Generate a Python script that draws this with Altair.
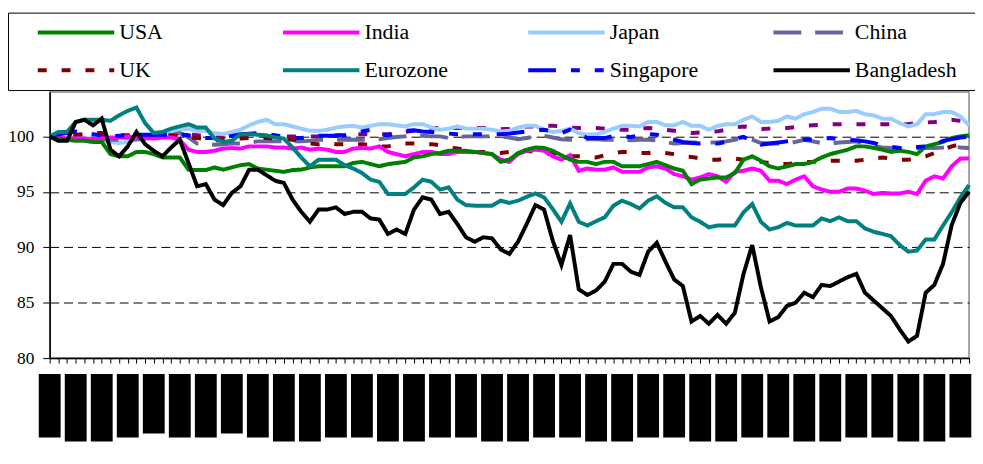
import altair as alt
import pandas as pd

series_order = ["USA", "India", "Japan", "China", "UK", "Eurozone", "Singapore", "Bangladesh"]
series_colors = ["#008000", "#FF00FF", "#99CCFF", "#666699", "#800000", "#008080", "#0000FF", "#000000"]
series_dashes = [[1, 0], [1, 0], [1, 0], [28, 14], [9, 15], [1, 0], [28, 15, 9, 15, 9, 15], [1, 0]]

usa = [100, 99.8, 99.7, 99.6, 99.6, 99.5, 99.5, 98.4, 98.2, 98.2,
       98.6, 98.6, 98.4, 98.1, 98.1, 98.1, 97.0, 96.96, 96.96, 97.2,
       97.0, 97.2, 97.4, 97.5, 97.1, 97.0, 96.9, 96.8, 96.96, 97.0,
       97.2, 97.3, 97.3, 97.3, 97.3, 97.6, 97.7, 97.5, 97.3, 97.5,
       97.6, 97.7, 98.1, 98.2, 98.4, 98.5, 98.7, 98.7, 98.7, 98.6,
       98.5, 98.4, 97.7, 97.9, 98.5, 98.8, 99.0, 98.96, 98.7, 98.3,
       97.9, 97.7, 97.7, 97.5, 97.7, 97.7, 97.3, 97.3, 97.3, 97.5,
       97.7, 97.4, 97.1, 96.9, 95.7, 96.1, 96.2, 96.3, 96.3, 96.7,
       97.9, 98.2, 97.8, 97.3, 97.1, 97.3, 97.5, 97.5, 97.7, 98.1,
       98.4, 98.6, 98.8, 99.1, 99.1, 98.96, 98.8, 98.6, 98.7, 98.6,
       98.4, 99.1, 99.3, 99.5, 99.85, 100.0, 100.1]

india = [100, 99.9, 99.8, 99.8, 99.8, 99.7, 99.8, 99.9, 99.9, 100.0,
         99.9, 99.9, 99.8, 99.9, 99.9, 99.7, 98.8, 98.6, 98.6, 98.7,
         98.9, 98.95, 98.9, 99.1, 99.1, 99.1, 99.0, 99.0, 98.9, 99.0,
         98.8, 98.9, 98.8, 98.6, 98.6, 98.9, 98.96, 98.9, 99.1, 98.6,
         98.4, 98.2, 98.4, 98.6, 98.6, 98.4, 98.4, 98.6, 98.6, 98.6,
         98.5, 98.4, 97.9, 97.7, 98.4, 98.7, 98.8, 98.7, 98.2, 97.9,
         98.3, 96.9, 97.1, 97.0, 97.0, 97.2, 96.8, 96.8, 96.8, 97.2,
         97.3, 97.1, 96.6, 96.4, 96.1, 96.3, 96.6, 96.4, 95.9, 96.8,
         96.9, 97.1, 96.9, 96.0, 96.0, 95.7, 96.1, 96.4, 95.5, 95.2,
         95.0, 95.0, 95.3, 95.3, 95.1, 94.8, 94.9, 94.85, 94.85, 95.0,
         94.8, 96.0, 96.4, 96.2, 97.3, 98.0, 98.0]

japan = [100, 99.8, 99.7, 99.8, 99.8, 99.8, 99.6, 99.5, 99.4, 99.5,
         99.7, 99.85, 100.1, 100.3, 100.4, 100.6, 100.7, 100.5, 100.5, 100.3,
         100.2, 100.4, 100.6, 101.0, 101.3, 101.5, 101.1, 101.1, 100.9, 100.7,
         100.5, 100.5, 100.6, 100.8, 100.9, 100.95, 100.8, 100.95, 101.1, 101.1,
         101.0, 100.9, 101.1, 101.1, 100.8, 100.6, 100.7, 100.9, 100.7, 100.7,
         100.7, 100.6, 100.45, 100.5, 100.8, 100.95, 100.95, 100.6, 100.4, 100.5,
         100.7, 100.3, 100.15, 100.2, 100.4, 100.7, 100.95, 100.95, 100.9, 101.3,
         101.3, 101.0, 101.0, 101.3, 100.95, 100.95, 100.6, 100.95, 101.1, 101.1,
         101.5, 101.8, 101.3, 101.3, 101.4, 101.8, 101.6, 102.0, 102.2, 102.5,
         102.5, 102.2, 102.2, 102.3, 102.0, 101.9, 101.6, 101.6, 101.2, 100.9,
         101.1, 102.0, 102.0, 102.2, 102.2, 101.8, 101.0]

china = [100, 99.7, 99.7, 99.75, 99.8, 99.8, 99.75, 99.7, 99.7, 99.7,
         99.75, 99.8, 99.85, 99.9, 100.1, 100.3, 99.9, 99.35, 99.3, 99.25,
         99.3, 99.35, 99.35, 99.45, 99.55, 99.55, 99.55, 99.55, 99.55, 99.55,
         99.6, 99.7, 99.7, 99.7, 99.7, 99.7, 99.7, 99.7, 99.75, 99.85,
         99.95, 100.0, 100.05, 100.05, 100.0, 100.0, 99.85, 99.95, 100.0, 100.0,
         100.0, 100.0, 100.0, 99.9, 99.75, 99.85, 100.0, 100.05, 99.9, 99.75,
         99.7, 99.7, 99.75, 99.75, 99.7, 99.7, 99.7, 99.65, 99.7, 99.7,
         99.65, 99.5, 99.35, 99.4, 99.45, 99.45, 99.45, 99.45, 99.55, 99.7,
         99.85, 99.7, 99.4, 99.35, 99.35, 99.35, 99.5, 99.7, 99.55, 99.4,
         99.35, 99.45, 99.5, 99.55, 99.3, 99.1, 99.0, 98.95, 98.9, 98.9,
         98.95, 98.95, 98.95, 99.0, 99.1, 99.0, 98.95]

uk = [100, 100.1, 100.1, 100.15, 100.2, 100.3, 100.3, 100.2, 100.1, 100.1,
      100.1, 100.1, 100.1, 100.1, 100.1, 100.0, 99.9, 99.85, 99.75, 99.65,
      99.7, 99.75, 99.8, 99.85, 99.85, 99.85, 99.8, 99.75, 99.7, 99.5,
      99.35, 99.3, 99.4, 99.3, 99.3, 99.3, 99.3, 99.2, 99.1, 99.1,
      99.2, 99.35, 99.35, 99.3, 99.3, 99.2, 99.0, 98.9, 98.8, 98.6,
      98.6, 98.5, 98.5, 98.6, 98.7, 98.7, 98.6, 98.5, 98.4, 98.3,
      98.2, 98.2, 98.1, 98.1, 98.3, 98.5, 98.6, 98.6, 98.5, 98.5,
      98.6, 98.5, 98.4, 98.2, 98.15, 98.0, 97.9, 97.9, 98.0, 98.0,
      97.9, 97.8, 97.7, 97.6, 97.5, 97.5, 97.6, 97.7, 97.7, 97.8,
      97.8, 97.8, 97.8, 97.8, 97.9, 98.0, 98.1, 98.0, 97.9, 97.9,
      98.0, 98.2, 98.5, 98.8, 99.1, 99.3, 99.5]

eurozone = [100.0, 100.4, 100.4, 101.3, 101.5, 101.5, 101.5, 101.4, 101.9, 102.3,
            102.6, 101.2, 100.3, 100.4, 100.7, 100.9, 101.1, 100.8, 100.8, 99.8,
            99.5, 99.6, 100.2, 100.2, 100.15, 100.1, 99.9, 99.8, 99.0, 98.1,
            97.3, 97.9, 97.9, 97.9, 97.4, 97.1, 96.7, 96.1, 95.9, 94.8,
            94.8, 94.8, 95.4, 96.1, 95.9, 95.2, 95.4, 94.3, 93.8, 93.75,
            93.75, 93.75, 94.2, 94.0, 94.2, 94.55, 94.85, 94.5, 93.45, 92.3,
            93.95, 92.3, 91.96, 92.35, 92.7, 93.75, 94.2, 93.9, 93.5, 94.2,
            94.6, 94.0, 93.6, 93.6, 92.7, 92.3, 91.8, 91.96, 91.96, 91.96,
            93.15, 93.9, 92.3, 91.6, 91.8, 92.2, 91.96, 91.96, 91.96, 92.6,
            92.35, 92.7, 92.35, 92.35, 91.7, 91.4, 91.2, 91.0, 90.2, 89.6,
            89.7, 90.7, 90.7, 91.96, 93.15, 94.5, 95.6]

singapore = [100, 100.2, 100.3, 100.45, 100.3, 100.2, 100.1, 100.0, 100.05, 100.1,
             100.15, 100.15, 100.15, 100.15, 100.15, 100.2, 100.1, 99.9, 99.85, 99.85,
             99.9, 100.05, 100.2, 100.25, 100.3, 100.2, 100.1, 99.95, 99.85, 99.85,
             99.95, 100.05, 100.05, 100.05, 100.1, 100.3, 100.45, 100.6, 100.2, 100.1,
             100.3, 100.5, 100.55, 100.45, 100.4, 100.3, 100.25, 100.2, 100.2, 100.2,
             100.2, 100.2, 100.2, 100.25, 100.35, 100.45, 100.55, 100.6, 100.45, 100.3,
             100.6, 100.2, 99.85, 99.85, 99.85, 100.05, 100.0, 99.95, 100.1, 100.2,
             100.15, 99.9, 99.7, 99.5, 99.4, 99.35, 99.35, 99.35, 99.5, 99.8,
             99.95, 99.6, 99.25, 99.35, 99.45, 99.55, 99.6, 99.7, 99.75, 99.8,
             99.85, 99.75, 99.7, 99.65, 99.55, 99.4, 99.2, 99.05, 98.95, 99.0,
             99.05, 99.1, 99.2, 99.6, 99.75, 99.9, 99.95]

bangladesh = [100, 99.6, 99.6, 101.3, 101.5, 101.0, 101.6, 98.8, 98.2, 99.1,
              100.4, 99.3, 98.7, 98.2, 99.0, 99.7, 97.6, 95.5, 95.7, 94.3,
              93.8, 94.9, 95.5, 97.0, 97.0, 96.5, 96.0, 95.8, 94.3, 93.2,
              92.3, 93.4, 93.4, 93.6, 93.0, 93.2, 93.2, 92.6, 92.5, 91.2,
              91.6, 91.2, 93.4, 94.5, 94.3, 93.0, 93.2, 92.1, 90.9, 90.5,
              90.9, 90.8, 89.8, 89.4, 90.5, 92.1, 93.8, 93.4, 90.6, 88.4,
              91.1, 86.2, 85.7, 86.1, 86.9, 88.5, 88.5, 87.8, 87.5, 89.6,
              90.4, 88.7, 87.1, 86.5, 83.3, 83.8, 83.1, 83.9, 83.1, 84.1,
              87.6, 90.2, 86.4, 83.3, 83.7, 84.7, 85.0, 85.9, 85.5, 86.6,
              86.5, 86.9, 87.3, 87.6, 85.9, 85.2, 84.5, 83.8, 82.6, 81.5,
              82.0, 85.9, 86.6, 88.5, 92.0, 94.0, 95.0]

# unlabeled extra dotted series (purple), not in the legend
extra_purple = [100, 99.9, 99.9, 100.0, 100.1, 100.1, 100.0, 99.9, 99.9, 99.9,
                99.9, 99.9, 100.0, 100.1, 100.2, 100.3, 100.2, 100.1, 100.0, 99.9,
                99.9, 99.9, 100.0, 100.0, 100.0, 100.0, 100.0, 100.0, 100.0, 100.0,
                100.0, 100.0, 100.0, 100.1, 100.1, 100.2, 100.2, 100.2, 100.2, 100.2,
                100.3, 100.4, 100.5, 100.6, 100.75, 100.75, 100.75, 100.75, 100.75, 100.75,
                100.75, 100.7, 100.65, 100.7, 100.8, 100.9, 100.9, 100.95, 100.95, 100.9,
                100.8, 100.75, 100.75, 100.75, 100.7, 100.65, 100.6, 100.6, 100.7, 100.75,
                100.7, 100.6, 100.5, 100.4, 100.3, 100.35, 100.4, 100.45, 100.6, 100.8,
                100.9, 100.8, 100.65, 100.7, 100.75, 100.75, 100.85, 100.95, 101.0, 101.05,
                101.1, 101.1, 101.1, 101.1, 101.1, 101.1, 101.1, 101.1, 101.1, 101.1,
                101.2, 101.25, 101.3, 101.4, 101.5, 101.4, 101.3]

# redacted x tick labels (every 3rd period): relative label lengths in characters
label_chars = [6, 7, 7, 6, 5, 6, 6, 5, 6, 7, 7, 6, 6, 7, 7, 6, 6, 7,
               7, 6, 6, 7, 7, 6, 6, 7, 7, 6, 6, 7, 7, 6, 6, 7, 7, 6]
label_step = 3

# ---- build tables ----
all_series = dict(zip(series_order, [usa, india, japan, china, uk, eurozone, singapore, bangladesh]))
draw_order = ["Japan", "China", "UK", "India", "USA", "Singapore", "Eurozone", "Bangladesh"]
rows = []
for name in draw_order:
    for i, v in enumerate(all_series[name]):
        rows.append({"idx": i, "value": v, "series": name})
df = pd.DataFrame(rows)

df_extra = pd.DataFrame({"idx": list(range(len(extra_purple))), "value": extra_purple})

n_max = len(usa) - 1
y_lo, y_hi = 80, 104
plot_w, plot_h = 926, 268
px_per_unit = plot_h / (y_hi - y_lo)
px_per_idx = plot_w / n_max
block_top = y_lo - 16 / px_per_unit
half_w = 11 / px_per_idx
blocks = pd.DataFrame({
    "x0": [k * label_step - half_w for k in range(len(label_chars))],
    "x1": [k * label_step + half_w for k in range(len(label_chars))],
    "top": [block_top] * len(label_chars),
    "bottom": [block_top - (4 * c + 40) / px_per_unit for c in label_chars],
})

SERIF = "Liberation Serif, Times New Roman, DejaVu Serif, serif"

x_scale = alt.Scale(domain=[0, n_max], nice=False, zero=False)
y_scale = alt.Scale(domain=[y_lo, y_hi], nice=False, zero=False)

x_axis = alt.Axis(values=list(range(n_max + 1)), labels=False, tickSize=5, grid=False,
                  title=None, domainColor="black", tickColor="black", domainWidth=1.5,
                  tickWidth=1)
y_axis = alt.Axis(values=[80, 85, 90, 95, 100], grid=True, gridDash=[9, 5], gridColor="black",
                  gridWidth=1, gridOpacity=1, tickSize=7, tickColor="black", domainColor="black",
                  domainWidth=1.5, labelFont=SERIF, labelFontSize=17.5,
                  labelColor="black", labelPadding=9, title=None)
border_axis = alt.Axis(offset=42, labels=False, ticks=False, grid=False, title=None,
                       domainColor="black", domainWidth=1)

legend = alt.Legend(title=" ", titleOrient="right", titlePadding=30,
                    orient="none", legendX=-42, legendY=-80, columns=4, direction="horizontal",
                    symbolType="stroke", symbolSize=5929, symbolStrokeWidth=4, clipHeight=24,
                    labelFont=SERIF, labelFontSize=22, labelColor="black",
                    labelOffset=3, symbolOffset=20, padding=8, rowPadding=14,
                    columnPadding=40, gridAlign="all", strokeColor="black")

purple = alt.Chart(df_extra).mark_line(strokeWidth=4, color="#800080", strokeDash=[9, 15]).encode(
    x=alt.X("idx:Q", scale=x_scale, axis=x_axis),
    y=alt.Y("value:Q", scale=y_scale, axis=None),
)

lines = alt.Chart(df).mark_line(strokeWidth=4).encode(
    x=alt.X("idx:Q", scale=x_scale, axis=x_axis),
    y=alt.Y("value:Q", scale=y_scale, axis=y_axis),
    color=alt.Color("series:N", scale=alt.Scale(domain=series_order, range=series_colors), legend=legend),
    strokeDash=alt.StrokeDash("series:N", scale=alt.Scale(domain=series_order, range=series_dashes), legend=legend),
)

block_layer = alt.Chart(blocks).mark_rect(color="black").encode(
    x=alt.X("x0:Q", scale=x_scale, axis=x_axis),
    x2="x1:Q",
    y=alt.Y("top:Q", scale=y_scale, axis=border_axis),
    y2="bottom:Q",
)

chart = alt.layer(purple, lines, block_layer).resolve_axis(y="independent").properties(
    width=plot_w, height=plot_h,
    autosize=alt.AutoSizeParams(type="none"),
    padding={"left": 42, "top": 83, "right": 6, "bottom": 105},
).configure_view(stroke="#888888", strokeWidth=1.5
).configure_axis(labelFont=SERIF
).configure_legend(labelFont=SERIF)

chart.save("out.html", embed_options={"renderer": "svg", "actions": False})
